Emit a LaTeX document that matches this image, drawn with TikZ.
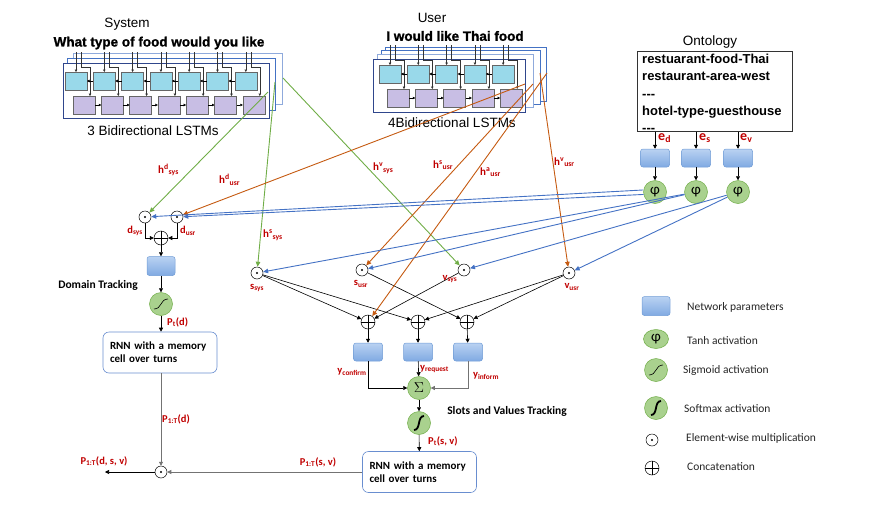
\documentclass[tikz,border=0pt]{standalone}
\usepackage{fontspec}
\setmainfont{Carlito}
\newfontfamily\arialfont{Liberation Sans}
\newfontfamily\heavyfont[FakeBold=1.3]{Liberation Sans Bold}
\usepackage{tikz}
\usetikzlibrary{arrows.meta,positioning,shapes.geometric}
\definecolor{labelred}{RGB}{192,0,0}
\definecolor{sysgreen}{RGB}{112,173,71}
\definecolor{usrorange}{RGB}{197,90,17}
\definecolor{phiblue}{RGB}{68,114,196}
\definecolor{paramtop}{RGB}{186,210,242}
\definecolor{parambot}{RGB}{128,170,226}
\definecolor{paramedge}{RGB}{112,156,214}
\definecolor{actfill}{RGB}{169,209,142}
\definecolor{actedge}{RGB}{112,173,71}
\definecolor{fwdcell}{RGB}{153,217,234}
\definecolor{bwdcell}{RGB}{200,190,228}
\definecolor{framenavy}{RGB}{47,70,140}
\definecolor{frameblue}{RGB}{68,114,196}
\definecolor{framelight}{RGB}{143,170,220}
\tikzset{
  paramblk/.style={rectangle,rounded corners=2.5pt,draw=paramedge,line width=.5pt,top color=paramtop,bottom color=parambot,minimum width=29pt,minimum height=18pt,inner sep=0pt},
  actnode/.style={circle,draw=actedge,fill=actfill,line width=.5pt,minimum size=23pt,inner sep=0pt,font=\fontsize{15}{15}\selectfont},
  sigact/.style={actnode,path picture={%
    \draw[black,line width=.6pt] ([shift={(-7,5)}]path picture bounding box.center)
      .. controls ([shift={(1,5)}]path picture bounding box.center)
      and ([shift={(-1,-5)}]path picture bounding box.center)
      .. ([shift={(7,-5)}]path picture bounding box.center);}},
  softact/.style={actnode,path picture={%
    \draw[black,line width=1.8pt] ([shift={(-5,7)}]path picture bounding box.center)
      .. controls ([shift={(2,7)}]path picture bounding box.center)
      and ([shift={(-2,-7)}]path picture bounding box.center)
      .. ([shift={(5,-7)}]path picture bounding box.center);}},
  multnode/.style={circle,draw=black,line width=.5pt,fill=white,minimum size=12pt,inner sep=0pt,
    path picture={\fill[black] (path picture bounding box.center) circle (1.2pt);}},
  catnode/.style={circle,draw=black,line width=.5pt,fill=white,minimum size=14pt,inner sep=0pt,
    path picture={\draw[black,line width=.5pt] (path picture bounding box.north) -- (path picture bounding box.south)
      (path picture bounding box.west) -- (path picture bounding box.east);}},
  rnnbox/.style={rectangle,rounded corners=6pt,draw=phiblue!80,line width=.6pt,minimum width=114pt,minimum height=41pt,
    inner xsep=7pt,text width=100pt,align=left,font=\bfseries\fontsize{11}{13}\selectfont},
  arr/.style={-{Triangle[length=4pt,width=4pt]},line width=.6pt,draw=black},
  grayarr/.style={arr,draw=black!55},
  sysline/.style={-{Triangle[length=5pt,width=4.5pt]},line width=.9pt,draw=sysgreen},
  usrline/.style={-{Triangle[length=5pt,width=4.5pt]},line width=.9pt,draw=usrorange},
  philine/.style={-{Triangle[length=5pt,width=4.5pt]},line width=.9pt,draw=phiblue}
}

\begin{document}
\begin{tikzpicture}[
  x=1pt,y=-1pt,
  cellline/.style={draw=black!60,line width=.5pt},
  wordline/.style={draw=black!80,line width=.5pt,-{Triangle[length=2.5pt,width=2.5pt]}},
  linkarr/.style={draw=black,line width=.5pt,-{Triangle[length=2.5pt,width=2.5pt]}},
  titletext/.style={font=\arialfont\fontsize{13.5}{15}\selectfont},
  sentence/.style={font=\heavyfont\fontsize{13.5}{15}\selectfont},
  ontotext/.style={font=\arialfont\bfseries\fontsize{13}{17.3}\selectfont},
  hlab/.style={font=\bfseries\fontsize{11}{12}\selectfont,text=labelred,anchor=west,inner sep=0pt},
  varlab/.style={font=\bfseries\fontsize{10.5}{12}\selectfont,text=labelred,inner sep=0pt},
  elab/.style={font=\bfseries\fontsize{14}{14}\selectfont,text=labelred,anchor=west,inner sep=0pt},
  tracktext/.style={font=\bfseries\fontsize{11.5}{13}\selectfont},
  legtext/.style={font=\fontsize{11.5}{13}\selectfont,text=black!85,anchor=west,inner sep=0pt}
]

  \useasboundingbox (0,0) rectangle (895,504);

  \def\lstmFrame#1#2#3#4#5{%
    \draw[draw=#5,line width=.8pt,fill=white] (#1,#2) rectangle (#3,#4);%
  }

  \def\lstmCol#1#2{%
    \begin{scope}[shift={(#1,#2)}]
      \draw[cellline,fill=fwdcell] (0,0) rectangle (22,18);
      \draw[cellline,fill=bwdcell] (8,24) rectangle (30,42);
      \draw[wordline] (11,-20) -- (11,0);
      \draw[wordline] (16,-20) -- (16,-5) -- (25,-5) -- (25,24);
    \end{scope}%
  }

  \def\lstmLink#1#2{%
    \begin{scope}[shift={(#1,#2)}]
      \draw[linkarr] (0,9) -- (-6.3,9);
      \draw[linkarr] (1.7,33) -- (8,33);
    \end{scope}%
  }

  % system encoder
  \node[titletext] (systitle) at (127,24) {System};
  \node[sentence] (syssent) at (159,43) {What type of food would you like};
  \lstmFrame{73}{53}{282}{104}{framelight}
  \lstmFrame{67}{58}{275}{110}{frameblue}
  \lstmFrame{63}{63}{269}{118}{framenavy}
  \lstmCol{65}{72}
  \lstmCol{93.3}{72}
  \lstmCol{121.6}{72}
  \lstmCol{149.9}{72}
  \lstmCol{178.2}{72}
  \lstmCol{206.5}{72}
  \lstmCol{234.8}{72}
  \lstmLink{93.3}{72}
  \lstmLink{121.6}{72}
  \lstmLink{149.9}{72}
  \lstmLink{178.2}{72}
  \lstmLink{206.5}{72}
  \lstmLink{234.8}{72}
  \node[titletext] (syscap) at (153,131) {3 Bidirectional LSTMs};

  % user encoder
  \node[titletext] (usrtitle) at (432,18) {User};
  \node[sentence] (usrsent) at (455,36) {I would like Thai food};
  \lstmFrame{385}{47}{546}{101}{frameblue}
  \lstmFrame{381}{50}{540}{104}{frameblue}
  \lstmFrame{377}{54}{533}{107}{framelight}
  \lstmFrame{373}{59}{525}{112}{framenavy}
  \lstmCol{379}{65}
  \lstmCol{407.3}{65}
  \lstmCol{435.6}{65}
  \lstmCol{463.9}{65}
  \lstmCol{492.2}{65}
  \lstmLink{407.3}{65}
  \lstmLink{435.6}{65}
  \lstmLink{463.9}{65}
  \lstmLink{492.2}{65}
  \node[titletext] (usrcap) at (452,123) {4Bidirectional LSTMs};

  \coordinate (sysd) at (268,92);
  \coordinate (syss) at (275,82);
  \coordinate (sysv) at (283,78);
  \coordinate (usrd) at (525,84);
  \coordinate (usrs) at (533,84);
  \coordinate (usra) at (547,73);
  \coordinate (usrv) at (540,73);

  % ontology
  \node[titletext] (ontotitle) at (710,42) {Ontology};
  \node[draw=black!80,line width=.7pt,anchor=north west,minimum width=155pt,minimum height=80pt,
    inner sep=0pt] (onto) at (637,51) {};
  \node[ontotext,anchor=north west,text width=150pt,align=left,inner sep=0pt] (ontotxt) at (642,54)
    {restuarant-food-Thai\\restaurant-area-west\\{-}{-}{-}\\hotel-type-guesthouse\\{-}{-}{-}};

  \node[paramblk] (ped) at (655,158) {};
  \node[paramblk] (pes) at (696,158) {};
  \node[paramblk] (pev) at (738,158) {};
  \node[actnode] (phid) at (655,192) {φ};
  \node[actnode] (phis) at (696,192) {φ};
  \node[actnode] (phiv) at (738,192) {φ};
  \draw[arr] (ped |- onto.south) -- (ped);
  \draw[arr] (pes |- onto.south) -- (pes);
  \draw[arr] (pev |- onto.south) -- (pev);
  \draw[arr] (ped) -- (phid);
  \draw[arr] (pes) -- (phis);
  \draw[arr] (pev) -- (phiv);
  \node[elab] at (658,138) {e\textsubscript{d}};
  \node[elab] at (699,138) {e\textsubscript{s}};
  \node[elab] at (740,138) {e\textsubscript{v}};

  % domain tracking
  \node[multnode] (dsys) at (145,217) {};
  \node[multnode] (dusr) at (177,217) {};
  \node[catnode] (dcat) at (161,238) {};
  \node[paramblk,minimum width=28pt,minimum height=19pt] (pd) at (161,266) {};
  \node[sigact] (sig) at (161,304) {};
  \node[rnnbox] (rnnd) at (160,352.5) {RNN with a memory\\cell over turns};
  \node[multnode] (mult) at (161,472) {};
  \coordinate (joint) at (105,472);

  \draw[arr] (dsys) |- (dcat);
  \draw[arr] (dusr) |- (dcat);
  \draw[arr] (dcat) -- (pd);
  \draw[arr] (pd) -- (sig);
  \draw[arr] (sig) -- (rnnd.north -| sig);
  \draw[grayarr] (rnnd.south -| mult) -- (mult);
  \draw[arr] (mult) -- (joint);

  \node[varlab,anchor=east] at (143,231) {d\textsubscript{sys}};
  \node[varlab,anchor=west] at (180,231) {d\textsubscript{usr}};
  \node[tracktext] at (98,285) {Domain Tracking};
  \node[varlab,anchor=west] at (167,322) {P\textsubscript{t}(d)};
  \node[varlab,anchor=west] at (162,419) {P\textsubscript{1:T}(d)};
  \node[varlab] at (104,461) {P\textsubscript{1:T}(d, s, v)};

  % slots and values tracking
  \node[multnode] (ssys) at (257,273) {};
  \node[multnode] (susr) at (362,270) {};
  \node[multnode] (vsys) at (464,270) {};
  \node[multnode] (vusr) at (569,273) {};
  \node[catnode] (cat1) at (368,322) {};
  \node[catnode] (cat2) at (418,322) {};
  \node[catnode] (cat3) at (467,322) {};
  \node[paramblk] (pconf) at (368,352) {};
  \node[paramblk] (preq) at (418,352) {};
  \node[paramblk] (pinf) at (468,352) {};
  \node[actnode] (sigma) at (419,388) {$\Sigma$};
  \node[softact] (soft) at (419,423) {};
  \node[rnnbox] (rnnsv) at (419.5,472) {RNN with a memory\\cell over turns};

  \draw[arr] (ssys) -- (cat1);
  \draw[arr] (ssys) -- (cat2);
  \draw[arr] (susr) -- (cat3);
  \draw[arr] (vsys) -- (cat1);
  \draw[arr] (vusr) -- (cat2);
  \draw[arr] (vusr) -- (cat3);
  \draw[arr] (cat1) -- (pconf);
  \draw[arr] (cat2) -- (preq);
  \draw[arr] (cat3) -- (pinf);
  \draw[arr] (pconf.south) |- (sigma);
  \draw[arr] (preq) -- (sigma);
  \draw[grayarr] (pinf.south) |- (sigma);
  \draw[arr] (sigma) -- (soft);
  \draw[arr] (soft) -- (rnnsv);
  \draw[grayarr] (rnnsv) -- (mult);

  \node[varlab] at (257,288) {s\textsubscript{sys}};
  \node[varlab] at (361,284) {s\textsubscript{usr}};
  \node[varlab] at (450,279) {v\textsubscript{sys}};
  \node[varlab] at (572,287) {v\textsubscript{usr}};
  \node[varlab] at (352,372) {y\textsubscript{confirm}};
  \node[varlab,anchor=west] at (420,369) {y\textsubscript{request}};
  \node[varlab] at (486,376) {y\textsubscript{inform}};
  \node[tracktext] at (507,411) {Slots and Values Tracking};
  \node[varlab,anchor=west] at (428,441) {P\textsubscript{t}(s, v)};
  \node[varlab] at (318,462) {P\textsubscript{1:T}(s, v)};

  % encoder outputs
  \draw[sysline] (sysd) -- (dsys);
  \draw[sysline] (syss) -- (ssys);
  \draw[sysline] (sysv) -- (vsys);
  \draw[usrline] (usrd) -- (dusr);
  \draw[usrline] (usrs) -- (susr);
  \draw[usrline] (usra) -- (cat1);
  \draw[usrline] (usrv) -- (vusr);

  \node[hlab] at (158,170) {h\textsuperscript{d}\textsubscript{sys}};
  \node[hlab] at (219,180) {h\textsuperscript{d}\textsubscript{usr}};
  \node[hlab] at (263,235) {h\textsuperscript{s}\textsubscript{sys}};
  \node[hlab] at (373,168) {h\textsuperscript{v}\textsubscript{sys}};
  \node[hlab] at (433,165) {h\textsuperscript{s}\textsubscript{usr}};
  \node[hlab] at (480,172) {h\textsuperscript{a}\textsubscript{usr}};
  \node[hlab] at (554,162) {h\textsuperscript{v}\textsubscript{usr}};

  % ontology embeddings
  \draw[philine] (phid.170) -- (dsys);
  \draw[philine] (phid.192) -- (dusr);
  \draw[philine] (phis) -- (ssys);
  \draw[philine] (phis) -- (susr);
  \draw[philine] (phiv) -- (vsys);
  \draw[philine] (phiv) -- (vusr);

  % legend
  \node[paramblk,minimum width=28pt,minimum height=19pt] (lgpar) at (656,306) {};
  \node[actnode,ellipse,minimum width=25pt,minimum height=19pt] (lgtanh) at (656,339) {φ};
  \node[sigact] (lgsig) at (656,370) {};
  \node[softact] (lgsoft) at (656,408) {};
  \node[multnode] (lgmult) at (652,440) {};
  \node[catnode] (lgcat) at (652,468) {};
  \node[legtext] at (687,307) {Network parameters};
  \node[legtext] at (687,341) {Tanh activation};
  \node[legtext] at (683,370) {Sigmoid activation};
  \node[legtext] at (684,409) {Softmax activation};
  \node[legtext] at (686,438) {Element-wise multiplication};
  \node[legtext] at (687,467) {Concatenation};

\end{tikzpicture}
\end{document}
